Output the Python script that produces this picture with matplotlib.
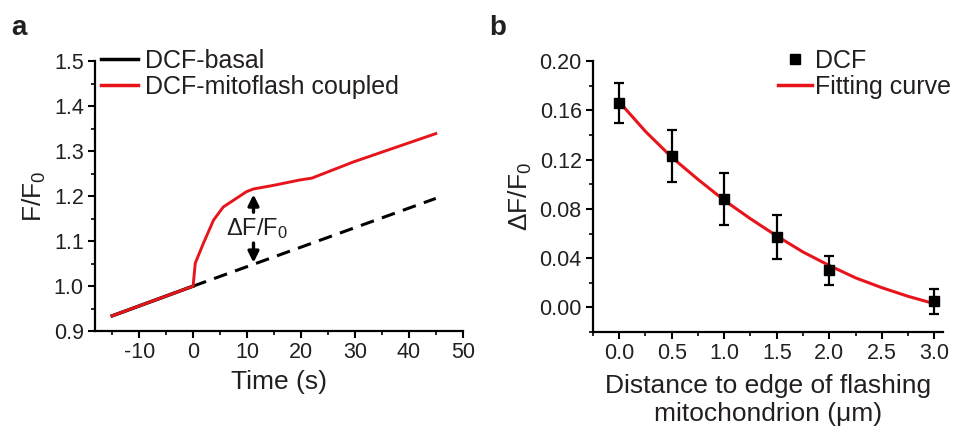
import numpy as np
import matplotlib
matplotlib.use("Agg")
import matplotlib.pyplot as plt
from matplotlib.lines import Line2D
from matplotlib.ticker import MultipleLocator

plt.rcParams['font.family'] = ['Liberation Sans', 'DejaVu Sans']
plt.rcParams['mathtext.fontset'] = 'custom'
plt.rcParams['mathtext.rm'] = 'Liberation Sans'
plt.rcParams['mathtext.it'] = 'Liberation Sans'
plt.rcParams['axes.unicode_minus'] = False

# panel a: F/F0 traces
basal_t = [-15, 0]
basal_f = [0.934, 1.0]
basal_dash_t = [0, 45]
basal_dash_f = [1.0, 1.195]
flash_t = [-15, 0, 0.4, 1.9, 3.8, 5.6, 7.5, 9.9, 11.2, 14.9, 19.8, 22, 29.7, 45]
flash_f = [0.934, 1.0, 1.051, 1.095, 1.147, 1.176, 1.191, 1.21, 1.216, 1.224,
           1.236, 1.24, 1.276, 1.339]

# panel b: amplitude vs distance
dist = [0.0, 0.5, 1.0, 1.5, 2.0, 3.0]
amp = [0.166, 0.123, 0.088, 0.057, 0.030, 0.005]
amp_err = [0.016, 0.021, 0.021, 0.018, 0.012, 0.010]
fit_x = [0.0, 0.25, 0.5, 0.75, 1.0, 1.25, 1.5, 1.75, 2.0, 2.25, 2.5, 2.75, 3.0]
fit_y = [0.167, 0.143, 0.122, 0.104, 0.087, 0.072, 0.058, 0.045, 0.034,
         0.024, 0.016, 0.009, 0.003]

txt = '#231f20'
red = '#e8141c'
fig = plt.figure(figsize=(9.64, 4.34), dpi=100)
axa = fig.add_axes([0.0985, 0.237, 0.3815, 0.622])
axb = fig.add_axes([0.615, 0.235, 0.363, 0.624])


def style(ax):
    for s in ['top', 'right']:
        ax.spines[s].set_visible(False)
    for s in ['left', 'bottom']:
        ax.spines[s].set_linewidth(1.6)
    ax.tick_params(which='major', direction='out', length=5, width=1.5,
                   labelsize=15.5, colors='black', labelcolor=txt, pad=3)
    ax.tick_params(which='minor', direction='out', length=3, width=1.2)


# ---- a ----
axa.plot(basal_t, basal_f, color='black', lw=2.5)
axa.plot(basal_dash_t, basal_dash_f, color='black', lw=2.2, ls=(0, (4.5, 2.8)))
axa.plot(flash_t, flash_f, color=red, lw=2.1)
axa.annotate('', xy=(11.2, 1.21), xytext=(11.2, 1.158),
             arrowprops=dict(arrowstyle='-|>', color='black', lw=2.4, mutation_scale=16))
axa.annotate('', xy=(11.2, 1.046), xytext=(11.2, 1.102),
             arrowprops=dict(arrowstyle='-|>', color='black', lw=2.4, mutation_scale=16))
axa.text(11.8, 1.128, r'$\Delta$F/F$_0$', ha='center', va='center', fontsize=17, color=txt)
axa.set_xlim(-18.2, 50)
axa.set_ylim(0.9, 1.5)
axa.xaxis.set_minor_locator(MultipleLocator(5))
axa.yaxis.set_minor_locator(MultipleLocator(0.05))
axa.set_xticks([-10, 0, 10, 20, 30, 40, 50])
axa.set_yticks([0.9, 1.0, 1.1, 1.2, 1.3, 1.4, 1.5])
axa.set_yticklabels(['0.9', '1.0', '1.1', '1.2', '1.3', '1.4', '1.5'])
style(axa)
axa.set_xlabel('Time (s)', fontsize=19, color=txt, labelpad=5)
axa.set_ylabel('F/F$_0$', fontsize=19, color=txt, labelpad=4)
axa.legend(handles=[Line2D([0], [0], color='black', lw=2.5, label='DCF-basal'),
                    Line2D([0], [0], color=red, lw=2.5, label='DCF-mitoflash coupled')],
           loc='upper left', bbox_to_anchor=(0.016, 1.045), frameon=False, fontsize=18,
           borderpad=0, borderaxespad=0, handlelength=1.5, handletextpad=0.25,
           labelspacing=0.08, labelcolor=txt)

# ---- b ----
axb.plot(fit_x, fit_y, color=red, lw=2.2, zorder=2)
axb.errorbar(dist, amp, yerr=amp_err, fmt='s', color='black', ms=7.5,
             capsize=3.5, elinewidth=1.6, capthick=1.6, zorder=3)
axb.set_xlim(-0.25, 3.08)
axb.set_ylim(-0.02, 0.2)
axb.xaxis.set_minor_locator(MultipleLocator(0.25))
axb.yaxis.set_minor_locator(MultipleLocator(0.02))
axb.set_xticks([0, 0.5, 1.0, 1.5, 2.0, 2.5, 3.0])
axb.set_xticklabels(['0.0', '0.5', '1.0', '1.5', '2.0', '2.5', '3.0'])
axb.set_yticks([0, 0.04, 0.08, 0.12, 0.16, 0.20])
axb.set_yticklabels(['0.00', '0.04', '0.08', '0.12', '0.16', '0.20'])
style(axb)
axb.set_xlabel('Distance to edge of flashing\nmitochondrion (\u03bcm)', fontsize=19,
               color=txt, labelpad=7, linespacing=1.2)
axb.set_ylabel(r'$\Delta$F/F$_0$', fontsize=19, color=txt, labelpad=4)
axb.legend(handles=[Line2D([0], [0], color='black', marker='s', ls='none', ms=7.5, label='DCF'),
                    Line2D([0], [0], color=red, lw=2.5, label='Fitting curve')],
           loc='upper left', bbox_to_anchor=(0.529, 1.045), frameon=False, fontsize=18,
           borderpad=0, borderaxespad=0, handlelength=1.35, handletextpad=0.12,
           labelspacing=0.08, labelcolor=txt)

fig.text(0.012, 0.965, 'a', fontsize=20, fontweight='bold', va='top', color=txt)
fig.text(0.508, 0.965, 'b', fontsize=20, fontweight='bold', va='top', color=txt)

fig.savefig('out.png', dpi=100)
